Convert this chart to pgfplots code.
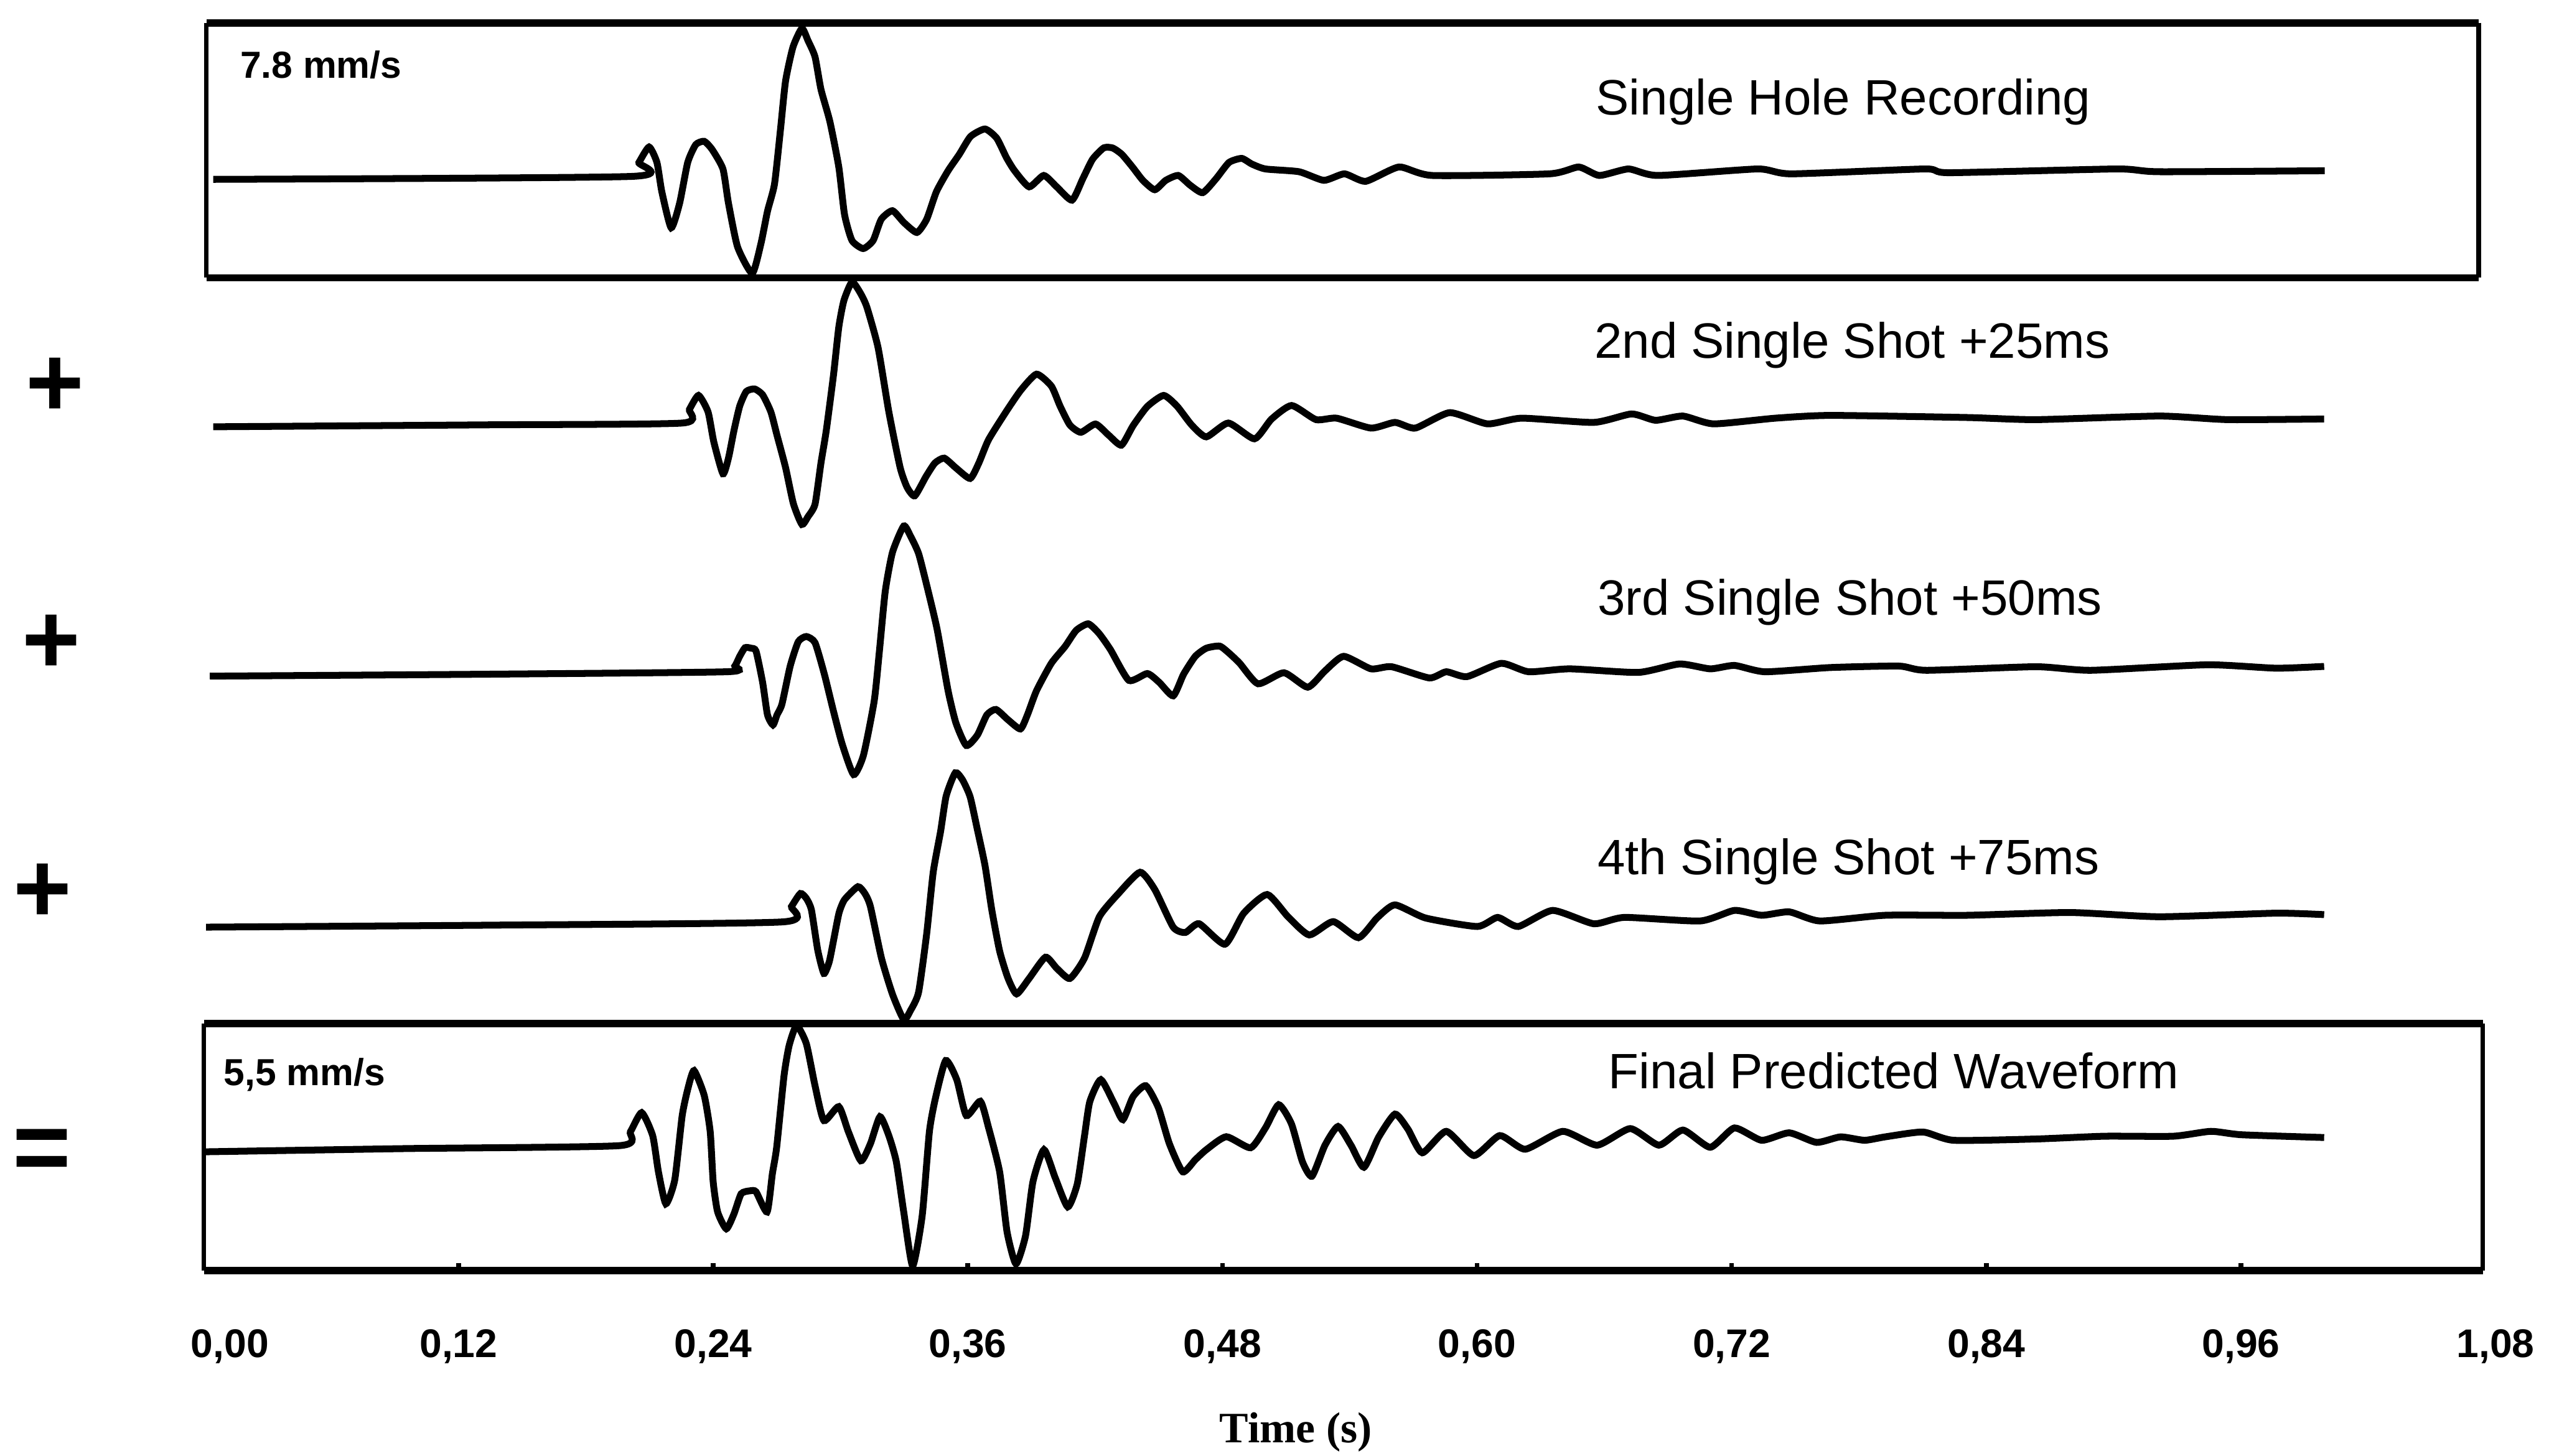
\documentclass[border=0pt]{standalone}
\usepackage{fontspec}
\setmainfont{Liberation Sans}
\newfontfamily\serifbold{Liberation Serif}
\usepackage{pgfplots}
\pgfplotsset{compat=1.18}
\begin{document}
\begin{tikzpicture}
\begin{axis}[
  x=13.052cm, y=0.01cm,
  xmin=0, xmax=1.08, ymin=-782, ymax=0,
  clip=false,
  axis x line=bottom,
  axis y line=none,
  x axis line style={draw=none},
  xtick={0.12,0.24,0.36,0.48,0.60,0.72,0.84,0.96},
  extra x ticks={0,1.08},
  extra x tick labels={{\hspace*{0.32cm}0,00},{1,08}},
  extra x tick style={major tick length=0pt},
  xtick align=inside,
  major tick length=0.045cm,
  tick style={black, line width=0.8pt},
  xticklabel style={font=\fontsize{7}{8}\selectfont\bfseries, inner sep=0pt, anchor=base, yshift=-0.535cm},
  /pgf/number format/.cd, fixed, fixed zerofill, precision=2, use comma, assume math mode=true,
  /pgfplots/.cd,
  xlabel={Time (s)},
  xlabel style={font=\serifbold\bfseries\fontsize{7.6}{9}\selectfont, inner sep=0pt, at={(axis description cs:0.4765,-0.1355)}, anchor=base},
  wave/.style={black, line width=1.2pt, no markers, smooth, tension=0.35},
]
% invisible frame fixing the picture size
\path (axis cs:-0.0961,0) rectangle (axis cs:1.1052,-896);

% boxes: thick top and bottom, thinner sides
\draw[line width=1.3pt] (axis cs:0.0012,-14) -- (axis cs:1.0720,-14);
\draw[line width=1.3pt] (axis cs:0.0012,-171) -- (axis cs:1.0720,-171);
\draw[line width=0.8pt] (axis cs:0.0012,-14) -- (axis cs:0.0012,-171);
\draw[line width=0.8pt] (axis cs:1.0720,-14) -- (axis cs:1.0720,-171);
\draw[line width=1.3pt] (axis cs:0,-630) -- (axis cs:1.074,-630);
\draw[line width=1.3pt] (axis cs:0,-782) -- (axis cs:1.074,-782);
\draw[line width=0.8pt] (axis cs:0,-630) -- (axis cs:0,-782);
\draw[line width=0.8pt] (axis cs:1.074,-630) -- (axis cs:1.074,-782);

% Single hole recording
\addplot[wave] coordinates {
(0.0044,-110.4) (0.2012,-108.6) (0.2050,-100) (0.2098,-90.5) (0.2135,-100) (0.2158,-118)
(0.2202,-140.2) (0.2242,-125) (0.2280,-100) (0.2318,-89) (0.2358,-87.0) (0.2395,-92)
(0.2446,-104) (0.2472,-125) (0.2515,-152) (0.2584,-168.2) (0.2625,-150) (0.2656,-130)
(0.2689,-113.3) (0.2717,-80) (0.2741,-50) (0.2776,-29) (0.2818,-17.5) (0.2847,-25)
(0.2880,-35) (0.2908,-55) (0.2950,-74.8) (0.2992,-102.8) (0.3019,-132) (0.3054,-148)
(0.3107,-153) (0.3154,-148) (0.3192,-135) (0.3245,-129.7) (0.3299,-137) (0.3360,-143.1)
(0.3406,-135) (0.3452,-118) (0.3507,-105.1) (0.3560,-95) (0.3613,-84) (0.3681,-79.4)
(0.3736,-85) (0.3782,-97) (0.3820,-105) (0.3889,-115) (0.3958,-108) (0.4019,-115)
(0.4091,-123.2) (0.4142,-110) (0.4188,-98) (0.4241,-91) (0.4283,-91.1) (0.4326,-95)
(0.4376,-102.8) (0.4425,-111) (0.4481,-116.8) (0.4533,-111) (0.4592,-108) (0.4648,-114)
(0.4707,-118.6) (0.4770,-110) (0.4831,-100) (0.4891,-97.5) (0.4939,-101) (0.5003,-104)
(0.5161,-105.7) (0.5278,-111) (0.5375,-107) (0.5475,-111.6) (0.5632,-102.8) (0.5789,-108)
(0.6341,-107) (0.6479,-102.8) (0.6576,-108) (0.6714,-104) (0.6852,-108) (0.7322,-104)
(0.7482,-107) (0.8111,-104) (0.8226,-106.3) (0.9015,-104) (0.9214,-105.7) (0.9995,-105.1)
};

% 2nd single shot
\addplot[wave] coordinates {
(0.0044,-262.7) (0.1338,-261.5) (0.2254,-260.4) (0.2288,-252) (0.2331,-243.4) (0.2376,-253.6)
(0.2403,-272) (0.2446,-291.6) (0.2472,-282) (0.2498,-265) (0.2525,-250) (0.2556,-241)
(0.2595,-239.4) (0.2633,-243) (0.2672,-253.6) (0.2701,-268) (0.2741,-287.7) (0.2778,-310)
(0.2818,-322.8) (0.2847,-318) (0.2880,-310.4) (0.2908,-285) (0.2933,-265) (0.2967,-230.9)
(0.2992,-201.4) (0.3016,-185) (0.3054,-173.6) (0.3092,-180) (0.3124,-188.9) (0.3177,-213.9)
(0.3228,-253.6) (0.3281,-287.7) (0.3314,-300) (0.3350,-305.2) (0.3403,-293.3) (0.3445,-285)
(0.3489,-282) (0.3544,-288) (0.3611,-294.5) (0.3652,-285) (0.3698,-270.6) (0.3785,-252.5)
(0.3851,-240) (0.3924,-230.3) (0.3994,-237.7) (0.4035,-250) (0.4081,-261.6) (0.4133,-266.1)
(0.4202,-261) (0.4265,-268) (0.4324,-274) (0.4379,-262) (0.4446,-250.2) (0.4523,-243.4)
(0.4586,-250) (0.4655,-261.6) (0.4724,-268.9) (0.4828,-260.4) (0.4951,-270.1) (0.5031,-258)
(0.5126,-249.6) (0.5241,-258.3) (0.5338,-257.4) (0.5500,-263.5) (0.5613,-260) (0.5709,-263.5)
(0.5871,-254) (0.6049,-260.9) (0.6211,-257.4) (0.6550,-260) (0.6728,-254.8) (0.6841,-258.7)
(0.6970,-256.1) (0.7115,-260.9) (0.7406,-257.4) (0.7665,-255.7) (0.8311,-257) (0.8634,-258.3)
(0.9216,-256.1) (0.9539,-258.3) (0.9992,-257.9)
};

% 3rd single shot
\addplot[wave] coordinates {
(0.0028,-416.2) (0.1338,-415) (0.2462,-413.5) (0.2502,-410) (0.2525,-404) (0.2550,-398.7)
(0.2579,-399) (0.2602,-400.8) (0.2633,-420) (0.2656,-440) (0.2682,-446.2) (0.2701,-440)
(0.2724,-433.5) (0.2763,-410) (0.2801,-395) (0.2839,-391.8) (0.2880,-395.6) (0.2924,-415)
(0.2967,-437.8) (0.3008,-458) (0.3062,-476.8) (0.3108,-465) (0.3159,-431.4) (0.3184,-400)
(0.3211,-363.9) (0.3245,-340) (0.3298,-323.8) (0.3330,-330) (0.3368,-340.7) (0.3406,-360)
(0.3455,-387.1) (0.3507,-425.1) (0.3544,-445) (0.3593,-458.9) (0.3645,-452.5) (0.3690,-440)
(0.3733,-436.7) (0.3789,-443) (0.3848,-448.7) (0.3881,-440) (0.3924,-425.1) (0.3994,-408.2)
(0.4058,-398) (0.4111,-388) (0.4168,-384) (0.4219,-390) (0.4272,-399.8) (0.4359,-418.8)
(0.4446,-414.6) (0.4502,-420) (0.4568,-428.3) (0.4617,-415) (0.4672,-404) (0.4724,-399)
(0.4787,-397.7) (0.4831,-402) (0.4881,-408.2) (0.4968,-420.9) (0.5090,-414.1) (0.5202,-423)
(0.5283,-413) (0.5371,-404) (0.5500,-411.7) (0.5597,-410.4) (0.5775,-417.3) (0.5855,-413.5)
(0.5952,-416.5) (0.6114,-408.3) (0.6243,-413.5) (0.6437,-411.7) (0.6760,-413.9) (0.6954,-408.7)
(0.7099,-411.7) (0.7213,-409.6) (0.7357,-413.5) (0.7665,-410.9) (0.7988,-410) (0.8118,-412.6)
(0.8634,-410.4) (0.8893,-412.6) (0.9442,-409.2) (0.9766,-411.3) (0.9992,-410.2)
};

% 4th single shot
\addplot[wave] coordinates {
(0.0010,-570.7) (0.1338,-569.5) (0.2724,-567.5) (0.2769,-558) (0.2811,-550) (0.2839,-553)
(0.2863,-560.1) (0.2893,-585) (0.2922,-599.2) (0.2947,-592) (0.2967,-579.1) (0.2993,-562)
(0.3019,-553.8) (0.3082,-545.8) (0.3115,-550) (0.3141,-558) (0.3193,-589.7) (0.3245,-612)
(0.3298,-627.6) (0.3330,-622) (0.3368,-610.8) (0.3406,-575) (0.3437,-536.9) (0.3472,-511.6)
(0.3498,-490) (0.3541,-475.7) (0.3575,-480) (0.3611,-490.5) (0.3644,-510) (0.3681,-532.7)
(0.3713,-560) (0.3750,-585.4) (0.3789,-602) (0.3830,-611.8) (0.3889,-602.3) (0.3966,-589.2)
(0.4019,-596) (0.4081,-602.3) (0.4150,-589.7) (0.4220,-564.3) (0.4310,-550) (0.4412,-536.9)
(0.4481,-547.5) (0.4568,-570.7) (0.4625,-574) (0.4690,-568.6) (0.4812,-581.2) (0.4900,-562.2)
(0.5011,-550.6) (0.5109,-564.3) (0.5209,-575.5) (0.5322,-567.3) (0.5441,-577.2) (0.5529,-565)
(0.5613,-557) (0.5758,-565.1) (0.6001,-570.3) (0.6097,-564.7) (0.6194,-570.3) (0.6356,-560.4)
(0.6550,-568.6) (0.6695,-564.7) (0.7051,-566.9) (0.7213,-560.4) (0.7341,-563.4) (0.7471,-561.3)
(0.7616,-566.9) (0.7923,-563.4) (0.8311,-563.4) (0.8796,-561.7) (0.9216,-564.3) (0.9766,-562.1)
(0.9992,-563)
};

% Final predicted waveform
\addplot[wave] coordinates {
(0.0000,-709) (0.0955,-707) (0.1958,-705.2) (0.2010,-696.6) (0.2063,-684.9) (0.2115,-699.1)
(0.2142,-721.3) (0.2177,-741) (0.2219,-726.2) (0.2254,-686.7) (0.2282,-669.5) (0.2310,-659)
(0.2358,-674.4) (0.2386,-696.6) (0.2400,-727.4) (0.2421,-746) (0.2462,-756.4) (0.2498,-747.2)
(0.2532,-734.8) (0.2574,-733) (0.2602,-733.6) (0.2654,-746) (0.2679,-722.5) (0.2699,-706.5)
(0.2734,-662.1) (0.2758,-643.6) (0.2793,-631.3) (0.2839,-642.4) (0.2880,-668.3) (0.2922,-689.8)
(0.2992,-681.2) (0.3037,-696.6) (0.3096,-714.5) (0.3141,-704) (0.3186,-687.4) (0.3228,-699.1)
(0.3263,-715.1) (0.3298,-746) (0.3340,-779.2) (0.3385,-748.4) (0.3419,-696.6) (0.3448,-675.7)
(0.3496,-652.8) (0.3548,-664.6) (0.3593,-686.7) (0.3659,-677.9) (0.3698,-694.2) (0.3750,-721.3)
(0.3785,-758.3) (0.3827,-778) (0.3872,-760.7) (0.3907,-727.4) (0.3959,-707.7) (0.4012,-725)
(0.4071,-742.9) (0.4116,-728.7) (0.4150,-699.1) (0.4175,-678.1) (0.4227,-664.6) (0.4290,-679.4)
(0.4331,-689.2) (0.4379,-675) (0.4439,-668.3) (0.4498,-681.8) (0.4550,-704) (0.4613,-721.3)
(0.4672,-713.9) (0.4724,-707.7) (0.4818,-699.7) (0.4933,-706.5) (0.5003,-694.2) (0.5065,-680)
(0.5125,-691.7) (0.5177,-715.1) (0.5222,-724) (0.5283,-705) (0.5345,-693.4) (0.5406,-705)
(0.5467,-718.5) (0.5536,-700) (0.5613,-685.8) (0.5674,-695) (0.5742,-709.6) (0.5855,-696.4)
(0.5985,-711.3) (0.6107,-699) (0.6227,-707.4) (0.6404,-696.4) (0.6566,-704.9) (0.6722,-694.7)
(0.6857,-704.9) (0.6970,-695.6) (0.7099,-706.2) (0.7213,-694.3) (0.7341,-701.9) (0.7471,-697.3)
(0.7600,-703.2) (0.7713,-699.8) (0.7826,-701.9) (0.7923,-699.8) (0.8101,-696.8) (0.8246,-701.9)
(0.8634,-701.1) (0.8957,-699.4) (0.9281,-699.4) (0.9458,-696.4) (0.9604,-698.5) (0.9992,-700.2)
};

% texts
\node[anchor=base west, inner sep=0pt, font=\fontsize{8.7}{10}\selectfont] at (axis cs:0.6555,-70.5) {Single Hole Recording};
\node[anchor=base west, inner sep=0pt, font=\fontsize{8.7}{10}\selectfont] at (axis cs:0.6548,-220.4) {2nd Single Shot +25ms};
\node[anchor=base west, inner sep=0pt, font=\fontsize{8.7}{10}\selectfont] at (axis cs:0.6563,-378.5) {3rd Single Shot +50ms};
\node[anchor=base west, inner sep=0pt, font=\fontsize{8.7}{10}\selectfont] at (axis cs:0.6563,-538.5) {4th Single Shot +75ms};
\node[anchor=base west, inner sep=0pt, font=\fontsize{8.7}{10}\selectfont] at (axis cs:0.6614,-670) {Final Predicted Waveform};
\node[anchor=base west, inner sep=0pt, font=\fontsize{6.6}{8}\selectfont\bfseries] at (axis cs:0.0166,-47.9) {7.8 mm/s};
\node[anchor=base west, inner sep=0pt, font=\fontsize{6.6}{8}\selectfont\bfseries] at (axis cs:0.0089,-668) {5,5 mm/s};

\node[inner sep=0pt, font=\fontsize{17.5}{18}\selectfont\bfseries] at (axis cs:-0.0701,-238.5) {+};
\node[inner sep=0pt, font=\fontsize{17.5}{18}\selectfont\bfseries] at (axis cs:-0.0720,-396.6) {+};
\node[inner sep=0pt, font=\fontsize{17.5}{18}\selectfont\bfseries] at (axis cs:-0.0759,-549.6) {+};
\node[inner sep=0pt, font=\fontsize{17.5}{18}\selectfont\bfseries] at (axis cs:-0.0762,-711) {=};
\end{axis}
\end{tikzpicture}
\end{document}
